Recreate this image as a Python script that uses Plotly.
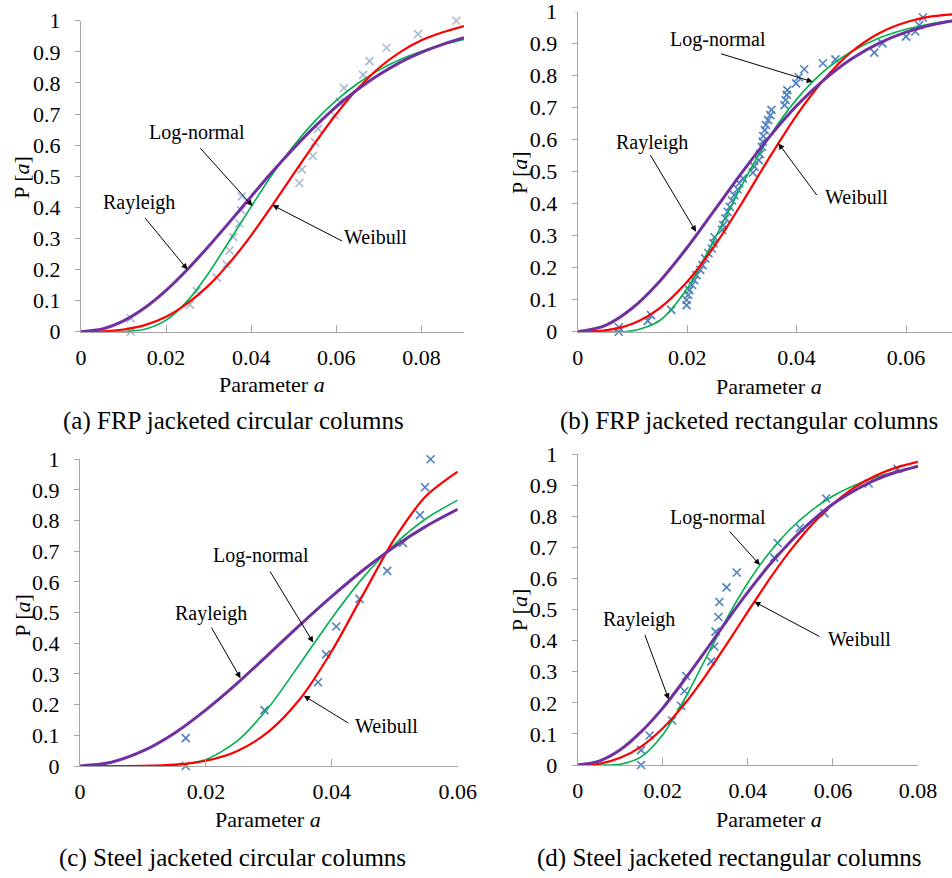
import plotly.graph_objects as go

# ---------------- data ----------------
y_tickvals = [0, 0.1, 0.2, 0.3, 0.4, 0.5, 0.6, 0.7, 0.8, 0.9, 1.0]
y_ticktext = ["0", "0.1", "0.2", "0.3", "0.4", "0.5", "0.6", "0.7", "0.8", "0.9", "1"]
x_tickvals_a = [0, 0.02, 0.04, 0.06, 0.08]
x_ticktext_a = ["0", "0.02", "0.04", "0.06", "0.08"]
x_tickvals_c = [0, 0.02, 0.04, 0.06]
x_ticktext_c = ["0", "0.02", "0.04", "0.06"]

captions = ["(a) FRP jacketed circular columns", "(b) FRP jacketed rectangular columns",
            "(c) Steel jacketed circular columns", "(d) Steel jacketed rectangular columns"]

# (a) FRP jacketed circular columns
a_x = [0, 0.005, 0.01, 0.015, 0.02, 0.025, 0.03, 0.035, 0.04, 0.045, 0.05, 0.055, 0.06, 0.065, 0.07, 0.075, 0.08, 0.085, 0.09]
a_ray = [0, 0.009, 0.035, 0.077, 0.133, 0.200, 0.275, 0.354, 0.435, 0.515, 0.590, 0.660, 0.724, 0.779, 0.826, 0.866, 0.898, 0.924, 0.945]
a_logn = [0, 0, 0.0005, 0.008, 0.037, 0.099, 0.189, 0.295, 0.402, 0.507, 0.599, 0.678, 0.744, 0.798, 0.841, 0.875, 0.902, 0.923, 0.940]
a_weib = [0, 0.001, 0.007, 0.021, 0.048, 0.091, 0.149, 0.223, 0.310, 0.407, 0.508, 0.607, 0.700, 0.781, 0.848, 0.899, 0.937, 0.963, 0.983]
a_data_x = [0.0117, 0.0117, 0.0256, 0.0272, 0.0319, 0.0342, 0.0349, 0.0358, 0.0372, 0.0376, 0.0378, 0.0513,
            0.0519, 0.0545, 0.0550, 0.0557, 0.0596, 0.0608, 0.0618, 0.0663, 0.0678, 0.0718, 0.0792, 0.0882]
a_data_y = [0, 0.043, 0.087, 0.130, 0.174, 0.217, 0.261, 0.304, 0.348, 0.391, 0.435, 0.478,
            0.522, 0.565, 0.609, 0.652, 0.696, 0.739, 0.783, 0.826, 0.870, 0.913, 0.957, 1.0]

# (b) FRP jacketed rectangular columns
b_x = [0, 0.005, 0.01, 0.015, 0.02, 0.025, 0.03, 0.035, 0.04, 0.045, 0.05, 0.055, 0.06, 0.065, 0.07]
b_ray = [0, 0.019, 0.074, 0.158, 0.263, 0.380, 0.497, 0.608, 0.706, 0.787, 0.852, 0.901, 0.936, 0.960, 0.976]
b_logn = [0, 0, 0.0025, 0.035, 0.135, 0.290, 0.458, 0.608, 0.726, 0.814, 0.875, 0.917, 0.945, 0.964, 0.976]
b_weib = [0, 0.004, 0.025, 0.074, 0.156, 0.268, 0.402, 0.543, 0.676, 0.788, 0.874, 0.932, 0.967, 0.986, 0.994]
b_data_x = [0.0075, 0.0075, 0.0128, 0.0134, 0.0171, 0.0199, 0.0199, 0.0202, 0.0204, 0.0209, 0.0213, 0.0217,
            0.0224, 0.0228, 0.0233, 0.0239, 0.0245, 0.0248, 0.0250, 0.0264, 0.0266, 0.0270, 0.0274, 0.0278,
            0.0282, 0.0286, 0.0292, 0.0295, 0.0302, 0.0320, 0.0323, 0.0331, 0.0333, 0.0337, 0.0338, 0.0339,
            0.0342, 0.0344, 0.0348, 0.0352, 0.0354, 0.0378, 0.0380, 0.0382, 0.0383, 0.0399, 0.0404, 0.0414,
            0.0448, 0.0471, 0.0542, 0.0557, 0.0600, 0.0617, 0.0624, 0.0631]
b_data_y = [0.0, 0.014, 0.034, 0.052, 0.068, 0.083, 0.099, 0.115, 0.130, 0.146, 0.161, 0.177,
            0.193, 0.208, 0.229, 0.245, 0.260, 0.276, 0.295, 0.318, 0.333, 0.354, 0.375, 0.390,
            0.410, 0.427, 0.445, 0.464, 0.479, 0.497, 0.516, 0.536, 0.555, 0.578, 0.594, 0.611,
            0.630, 0.646, 0.661, 0.677, 0.693, 0.708, 0.724, 0.740, 0.755, 0.776, 0.795, 0.820,
            0.839, 0.851, 0.872, 0.901, 0.922, 0.938, 0.958, 0.982]

# (c) Steel jacketed circular columns
c_x = [0, 0.005, 0.01, 0.015, 0.02, 0.025, 0.03, 0.035, 0.04, 0.045, 0.05, 0.055, 0.06]
c_ray = [0, 0.0125, 0.049, 0.107, 0.183, 0.270, 0.365, 0.461, 0.553, 0.639, 0.716, 0.782, 0.837]
c_logn = [0, 0, 0, 0.002, 0.021, 0.082, 0.192, 0.335, 0.482, 0.615, 0.723, 0.807, 0.867]
c_weib = [0, 0, 0.0006, 0.0044, 0.017, 0.049, 0.113, 0.220, 0.375, 0.560, 0.742, 0.881, 0.960]
c_data_x = [0.0168, 0.0168, 0.0293, 0.0378, 0.0391, 0.0407, 0.0444, 0.0488, 0.0513, 0.0540, 0.0548, 0.0557]
c_data_y = [0, 0.091, 0.182, 0.273, 0.364, 0.455, 0.545, 0.636, 0.727, 0.818, 0.909, 1.0]

# (d) Steel jacketed rectangular columns
d_x = [0, 0.005, 0.01, 0.015, 0.02, 0.025, 0.03, 0.035, 0.04, 0.045, 0.05, 0.055, 0.06, 0.065, 0.07, 0.075, 0.08]
d_ray = [0, 0.0126, 0.049, 0.108, 0.183, 0.272, 0.366, 0.463, 0.556, 0.642, 0.718, 0.784, 0.839, 0.882, 0.917, 0.942, 0.961]
d_logn = [0, 0, 0.0025, 0.027, 0.097, 0.209, 0.340, 0.470, 0.586, 0.682, 0.759, 0.819, 0.865, 0.899, 0.925, 0.944, 0.958]
d_weib = [0, 0.004, 0.023, 0.060, 0.118, 0.194, 0.286, 0.388, 0.493, 0.596, 0.690, 0.772, 0.839, 0.892, 0.930, 0.957, 0.975]
d_data_x = [0.0149, 0.0149, 0.0169, 0.0222, 0.0243, 0.0251, 0.0255, 0.0314, 0.0321, 0.0324, 0.0331,
            0.0333, 0.0350, 0.0374, 0.0462, 0.0470, 0.0522, 0.0580, 0.0584, 0.0684, 0.0752, 0.0813]
d_data_y = [0, 0.048, 0.095, 0.143, 0.190, 0.238, 0.286, 0.333, 0.381, 0.429, 0.476,
            0.524, 0.571, 0.619, 0.667, 0.714, 0.762, 0.810, 0.857, 0.905, 0.952, 1.0]

# label placements (text centre, arrow tail, arrow tip) in data units
labels = {
    "a": [("Log-normal", (0.02716, 0.640), (0.0277, 0.595), (0.0403, 0.404)),
          ("Rayleigh", (0.01371, 0.416), (0.0148, 0.370), (0.0250, 0.200)),
          ("Weibull", (0.0691, 0.303), (0.0617, 0.289), (0.0450, 0.407))],
    "b": [("Log-normal", (0.02571, 0.9135), (0.0259, 0.870), (0.04295, 0.781)),
          ("Rayleigh", (0.01352, 0.592), (0.0131, 0.557), (0.02163, 0.3125)),
          ("Weibull", (0.05087, 0.422), (0.0439, 0.422), (0.03667, 0.5885))],
    "c": [("Log-normal", (0.02868, 0.686), (0.03005, 0.639), (0.03704, 0.403)),
          ("Rayleigh", (0.02079, 0.498), (0.02074, 0.4565), (0.0255, 0.286)),
          ("Weibull", (0.04868, 0.130), (0.04286, 0.137), (0.03556, 0.229))],
    "d": [("Log-normal", (0.03306, 0.795), (0.03541, 0.7556), (0.04285, 0.643)),
          ("Rayleigh", (0.01434, 0.468), (0.01567, 0.423), (0.02139, 0.211)),
          ("Weibull", (0.06635, 0.405), (0.0572, 0.4105), (0.04152, 0.525))],
}

# ---------------- styling ----------------
W, H = 952, 878
FONT = "Liberation Serif"
PURPLE, GREEN, RED = "#7030A0", "#00B050", "#FF0000"
AXIS_COL = "#a6a6a6"

panels = [
    ("a", "", a_x, a_ray, a_logn, a_weib, a_data_x, a_data_y, [0, 0.09], [81 / W, 464 / W],
     [1 - 331.7 / H, 1 - 20.7 / H], "#a9bad3", (x_tickvals_a, x_ticktext_a)),
    ("b", "2", b_x, b_ray, b_logn, b_weib, b_data_x, b_data_y, [0, 0.0684], [577.7 / W, 1.0],
     [1 - 331.7 / H, 1 - 11.7 / H], "#4f81bd", (x_tickvals_a, x_ticktext_a)),
    ("c", "3", c_x, c_ray, c_logn, c_weib, c_data_x, c_data_y, [0, 0.06], [80 / W, 457.7 / W],
     [1 - 766 / H, 1 - 459.3 / H], "#4f81bd", (x_tickvals_c, x_ticktext_c)),
    ("d", "4", d_x, d_ray, d_logn, d_weib, d_data_x, d_data_y, [0, 0.08], [577.7 / W, 918 / W],
     [1 - 765 / H, 1 - 454 / H], "#4f81bd", (x_tickvals_a, x_ticktext_a)),
]

fig = go.Figure()
annotations = []
layout_axes = {}

for key, sfx, cx, ray, logn, weib, dx, dy, xr, xdom, ydom, mcol, (xtv, xtt) in panels:
    xa = "x" + sfx
    ya = "y" + sfx
    fig.add_trace(go.Scatter(x=dx, y=dy, xaxis=xa, yaxis=ya, mode="markers",
                             marker=dict(symbol="x-thin", size=8, line=dict(width=1.6, color=mcol)),
                             cliponaxis=False, showlegend=False, hoverinfo="skip"))
    fig.add_trace(go.Scatter(x=cx, y=logn, xaxis=xa, yaxis=ya, mode="lines",
                             line=dict(color=GREEN, width=1.6, shape="spline", smoothing=0.8),
                             showlegend=False, hoverinfo="skip"))
    fig.add_trace(go.Scatter(x=cx, y=weib, xaxis=xa, yaxis=ya, mode="lines",
                             line=dict(color=RED, width=2.2, shape="spline", smoothing=0.8),
                             showlegend=False, hoverinfo="skip"))
    fig.add_trace(go.Scatter(x=cx, y=ray, xaxis=xa, yaxis=ya, mode="lines",
                             line=dict(color=PURPLE, width=3, shape="spline", smoothing=0.8),
                             showlegend=False, hoverinfo="skip"))

    # panel (b): the top label "1" sits at the very edge of the figure, so it is drawn as text below
    ytv = y_tickvals[:-1] if key == "b" else y_tickvals
    ytt = y_ticktext[:-1] if key == "b" else y_ticktext

    layout_axes["xaxis" + sfx] = dict(
        domain=xdom, range=xr, anchor=ya, showline=True, linecolor=AXIS_COL, linewidth=1,
        showgrid=False, zeroline=False, ticks="inside", ticklen=7, tickcolor=AXIS_COL, tickwidth=1,
        tickvals=xtv, ticktext=xtt, tickfont=dict(family=FONT, size=22, color="black"),
        ticklabelstandoff=6, automargin=False, fixedrange=True)
    layout_axes["yaxis" + sfx] = dict(
        domain=ydom, range=[0, 1], anchor=xa, showline=True, linecolor=AXIS_COL, linewidth=1,
        showgrid=False, zeroline=False, ticks="outside", ticklen=5, tickcolor=AXIS_COL, tickwidth=1,
        tickvals=ytv, ticktext=ytt, tickfont=dict(family=FONT, size=22, color="black"),
        ticklabelstandoff=10, automargin=False, fixedrange=True)

    if key == "b":
        # tick mark and label for the top value of panel (b)
        annotations.append(dict(x=xdom[0] - 19 / W, y=y_tickvals[-1], xref="paper", yref=ya,
                                text=y_ticktext[-1], showarrow=False,
                                font=dict(family=FONT, size=22, color="black"),
                                xanchor="right", yanchor="middle"))
        fig.add_shape(type="line", xref="paper", yref=ya, x0=xdom[0] - 5 / W, x1=xdom[0],
                      y0=y_tickvals[-1], y1=y_tickvals[-1], line=dict(color=AXIS_COL, width=1))

    for text, (tx, ty), (ax_, ay_), (hx, hy) in labels[key]:
        annotations.append(dict(x=tx, y=ty, xref=xa, yref=ya, text=text, showarrow=False,
                                font=dict(family=FONT, size=20, color="black"),
                                xanchor="center", yanchor="middle"))
        annotations.append(dict(x=hx, y=hy, xref=xa, yref=ya, ax=ax_, ay=ay_, axref=xa, ayref=ya,
                                text="", showarrow=True, arrowhead=2, arrowsize=1.2, arrowwidth=1,
                                arrowcolor="black", standoff=0, startstandoff=0))

xtitle_pos = [(272 / W, 1 - 385 / H), (769 / W, 1 - 386 / H), (268.3 / W, 1 - 819.3 / H), (769 / W, 1 - 819.3 / H)]
ytitle_pos = [(21.7 / W, 1 - 177 / H), (519.3 / W, 1 - 172.7 / H), (21.7 / W, 1 - 615 / H), (519.3 / W, 1 - 610 / H)]
caption_pos = [(233.5 / W, 1 - 421 / H), (749 / W, 1 - 421 / H), (232 / W, 1 - 858 / H), (729.5 / W, 1 - 858 / H)]

for (px, py) in xtitle_pos:
    annotations.append(dict(x=px, y=py, xref="paper", yref="paper", text="Parameter <i>a</i>",
                            showarrow=False, font=dict(family=FONT, size=22, color="black"),
                            xanchor="center", yanchor="middle"))
for (px, py) in ytitle_pos:
    annotations.append(dict(x=px, y=py, xref="paper", yref="paper", text="P [<i>a</i>]",
                            showarrow=False, textangle=-90, font=dict(family=FONT, size=22, color="black"),
                            xanchor="center", yanchor="middle"))
for cap, (px, py) in zip(captions, caption_pos):
    annotations.append(dict(x=px, y=py, xref="paper", yref="paper", text=cap,
                            showarrow=False, font=dict(family=FONT, size=25, color="black"),
                            xanchor="center", yanchor="middle"))

fig.update_layout(
    width=W, height=H, autosize=False,
    margin=dict(l=0, r=0, t=0, b=0, autoexpand=False),
    paper_bgcolor="white", plot_bgcolor="white",
    font=dict(family=FONT, color="black"),
    annotations=annotations,
    **layout_axes,
)

fig.write_html("out.html", config={"displayModeBar": False},
               post_script="document.body.style.margin='0px';document.body.style.padding='0px';"
                           "document.body.style.overflow='hidden';")
